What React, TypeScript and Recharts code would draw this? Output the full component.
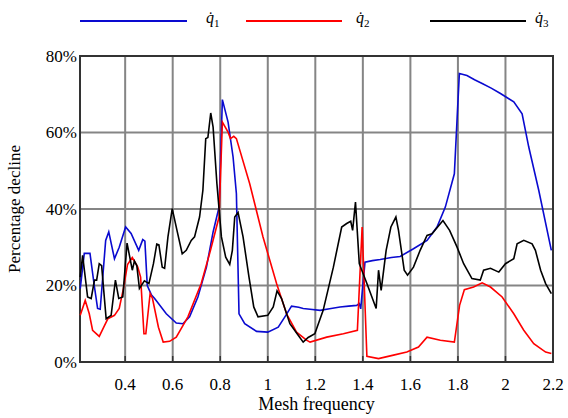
import React from "react";
import {
  LineChart, Line, XAxis, YAxis, CartesianGrid, Legend, Label, ReferenceArea,
} from "recharts";

const FONT = '"Liberation Serif", "Times New Roman", serif';

// [mesh frequency, percentage decline]
const Q1: [number, number][] = [
  [0.211, 19.2], [0.228, 28.4], [0.252, 28.4], [0.27, 20], [0.284, 14], [0.295, 13.8],
  [0.318, 31.8], [0.331, 34], [0.355, 27], [0.375, 30], [0.402, 35.3], [0.425, 33.6],
  [0.457, 29.2], [0.474, 32], [0.483, 31.6], [0.493, 20], [0.51, 17.6], [0.524, 16.6],
  [0.573, 12.6], [0.615, 10.2], [0.643, 10], [0.671, 11.8], [0.706, 17], [0.742, 24.8],
  [0.77, 34], [0.795, 40.5], [0.809, 68.6], [0.833, 62.7], [0.854, 53.6], [0.868, 44],
  [0.879, 12.6], [0.903, 10], [0.953, 8], [1.0, 7.8], [1.044, 9.1], [1.072, 11.8],
  [1.1, 14.6], [1.13, 14.3], [1.149, 14], [1.178, 13.8], [1.22, 13.5], [1.26, 13.9],
  [1.304, 14.4], [1.34, 14.6], [1.374, 14.8], [1.385, 15.3], [1.391, 13.9], [1.409, 26.1],
  [1.44, 26.5], [1.473, 26.8], [1.52, 27.3], [1.557, 27.6], [1.613, 29.6], [1.67, 31.8],
  [1.712, 35.3], [1.747, 40.5], [1.785, 49.2], [1.806, 75.4], [1.838, 74.9], [1.87, 73.8],
  [1.902, 72.8], [1.94, 71.6], [1.979, 70.2], [2.035, 68], [2.07, 64.9], [2.098, 56.2],
  [2.14, 44.9], [2.193, 29.2],
];

const Q2: [number, number][] = [
  [0.211, 12.2], [0.232, 16.1], [0.249, 12.6], [0.263, 8.3], [0.291, 6.7], [0.313, 9.5],
  [0.327, 11.3], [0.355, 12.2], [0.375, 14], [0.392, 19], [0.41, 25.5], [0.43, 27.3],
  [0.453, 24.8], [0.465, 22.2], [0.479, 7.4], [0.487, 7.4], [0.505, 17.9], [0.515, 16.6],
  [0.54, 9.1], [0.56, 5.2], [0.587, 5.4], [0.615, 6.5], [0.664, 11.8], [0.72, 20.5],
  [0.759, 29.2], [0.795, 37.9], [0.809, 62.7], [0.833, 60.1], [0.843, 58.4], [0.857, 59],
  [0.868, 58.4], [0.924, 46.6], [0.98, 32.7], [1.037, 20.5], [1.079, 12.6], [1.121, 7.8],
  [1.163, 5.7], [1.178, 5.2], [1.248, 6.5], [1.318, 7.4], [1.377, 8.3], [1.397, 35.3],
  [1.417, 1.5], [1.466, 0.9], [1.529, 1.8], [1.585, 2.6], [1.634, 3.9], [1.67, 6.5],
  [1.726, 5.7], [1.785, 5.2], [1.807, 14.8], [1.827, 18.9], [1.866, 19.6], [1.902, 20.7],
  [1.937, 19.6], [1.986, 17], [2.035, 12.6], [2.077, 8.3], [2.119, 4.8], [2.169, 2.6],
  [2.193, 2.2],
];

const Q3: [number, number][] = [
  [0.211, 22.2], [0.221, 27.9], [0.242, 17], [0.257, 16.6], [0.271, 21.4], [0.28, 21.4],
  [0.291, 25.7], [0.301, 25.2], [0.32, 11.3], [0.341, 12.2], [0.359, 21.4], [0.373, 16.6],
  [0.39, 17], [0.408, 31.1], [0.43, 24], [0.439, 26.4], [0.449, 25.2], [0.46, 19.2],
  [0.481, 21.2], [0.5, 20.5], [0.519, 25.7], [0.533, 30.8], [0.542, 30.6], [0.556, 24.8],
  [0.566, 24.5], [0.58, 32.7], [0.598, 40.1], [0.618, 34.4], [0.64, 28.3], [0.657, 29.2],
  [0.678, 31.8], [0.692, 32.7], [0.713, 37.9], [0.727, 44.9], [0.739, 58.4], [0.748, 58.7],
  [0.76, 65.1], [0.77, 61.4], [0.786, 46.6], [0.805, 32.7], [0.823, 27.4], [0.84, 25.5],
  [0.851, 29.2], [0.861, 37.9], [0.875, 39.1], [0.896, 32.7], [0.921, 22.2], [0.941, 14.4],
  [0.959, 11.8], [1.0, 12.2], [1.023, 14.4], [1.039, 18.6], [1.058, 16.6], [1.093, 10],
  [1.128, 7], [1.149, 5.2], [1.17, 6.4], [1.198, 7.4], [1.233, 13.5], [1.276, 24.8],
  [1.311, 35.3], [1.332, 36.2], [1.349, 36.8], [1.357, 34.4], [1.369, 41.8], [1.385, 25.7],
  [1.417, 20.5], [1.456, 14], [1.466, 24], [1.477, 18.7], [1.498, 29.2], [1.518, 35.3],
  [1.539, 37.9], [1.55, 34.4], [1.574, 24], [1.588, 22.7], [1.613, 24.8], [1.641, 29.2],
  [1.67, 33.1], [1.691, 33.5], [1.737, 37], [1.765, 34.4], [1.796, 30.1], [1.824, 25.7],
  [1.859, 21.8], [1.894, 21.4], [1.908, 24], [1.937, 24.5], [1.972, 23.5], [2.0, 25.7],
  [2.035, 27], [2.049, 30.9], [2.077, 31.8], [2.112, 30.9], [2.126, 29.2], [2.148, 24],
  [2.169, 20.5], [2.193, 17.9],
];

const X_TICKS = [0.4, 0.6, 0.8, 1, 1.2, 1.4, 1.6, 1.8, 2, 2.2];
const Y_TICKS = [0, 20, 40, 60, 80];

const SERIES = [
  { key: "q1", sub: "1", color: "#0a0ad0", data: Q1, line: [80, 187], text: 206 },
  { key: "q2", sub: "2", color: "#ff0000", data: Q2, line: [246, 342], text: 356 },
  { key: "q3", sub: "3", color: "#000000", data: Q3, line: [430, 526], text: 535 },
];

const toRows = (pts: [number, number][]) => pts.map(([x, y]) => ({ x, y }));

const TEXT_STYLE = { fontFamily: FONT, fontSize: 17, fill: "#000" };

function LegendBox() {
  return (
    <div style={{ position: "relative", width: 568, height: 56, fontFamily: FONT }}>
      {SERIES.map((s) => (
        <React.Fragment key={s.key}>
          <div
            style={{
              position: "absolute", left: s.line[0], top: 20,
              width: s.line[1] - s.line[0], height: 2, background: s.color,
            }}
          />
          <span
            style={{
              position: "absolute", left: s.text, top: 8, fontSize: 16,
              color: "#000", lineHeight: "20px", whiteSpace: "nowrap",
            }}
          >
            <i>q{"\u0307"}</i>
            <sub style={{ fontSize: 11 }}>{s.sub}</sub>
          </span>
        </React.Fragment>
      ))}
    </div>
  );
}

function XTick(p: any) {
  return (
    <text x={p.x} y={p.y} dy="0.71em" textAnchor="middle" style={TEXT_STYLE}>
      {String(p.payload.value)}
    </text>
  );
}

function YTick(p: any) {
  return (
    <text x={p.x} y={p.y} dy="0.35em" textAnchor="end" style={TEXT_STYLE}>
      {`${p.payload.value}%`}
    </text>
  );
}

function YTitle(props: any) {
  const vb = props.viewBox || { y: 56, height: 306 };
  const cy = vb.y + vb.height / 2;
  return (
    <text
      x={20} y={cy} transform={`rotate(-90, 20, ${cy})`}
      textAnchor="middle" style={TEXT_STYLE}
    >
      Percentage decline
    </text>
  );
}

export default function App() {
  return (
    <div
      style={{
        position: "absolute", left: 0, top: 0, width: 568, height: 418,
        background: "#fff", fontFamily: FONT,
      }}
    >
      <LineChart width={568} height={418} margin={{ top: 0, right: 15, bottom: 26, left: 0 }}>
        <CartesianGrid stroke="#858585" strokeWidth={2} />
        <XAxis
          type="number" dataKey="x" domain={[0.21, 2.2]} ticks={X_TICKS}
          tick={XTick} axisLine={false} tickLine={{ stroke: "#333", strokeWidth: 1.5 }}
          tickSize={-6} tickMargin={22} height={30} interval={0}
        >
          <Label value="Mesh frequency" position="bottom" offset={5}
            style={{ fontFamily: FONT, fontSize: 18, fill: "#000" }} />
        </XAxis>
        <XAxis
          xAxisId="top" orientation="top" type="number" domain={[0.21, 2.2]} ticks={X_TICKS}
          tick={false} axisLine={false} tickLine={{ stroke: "#333", strokeWidth: 1.5 }}
          tickSize={-6} height={0} interval={0}
        />
        <YAxis
          type="number" domain={[0, 80]} ticks={Y_TICKS}
          tick={YTick} axisLine={false} tickLine={false} tickSize={0} tickMargin={3} width={80}
        >
          <Label content={<YTitle />} />
        </YAxis>
        <YAxis
          yAxisId="right" orientation="right" type="number" domain={[0, 80]} ticks={Y_TICKS}
          tick={false} axisLine={false} tickLine={{ stroke: "#333", strokeWidth: 1.5 }}
          tickSize={-5} width={0}
        />
        <ReferenceArea x1={0.21} x2={2.2} y1={0} y2={80} fill="none" stroke="#333" strokeWidth={2} />
        <Legend
          verticalAlign="top" content={<LegendBox />}
          wrapperStyle={{ top: 0, left: 0, width: 568, height: 56 }}
        />
        {SERIES.map((s) => (
          <Line
            key={s.key} type="linear" data={toRows(s.data)} dataKey="y" name={s.key}
            stroke={s.color} strokeWidth={1.6} dot={false} isAnimationActive={false}
          />
        ))}
      </LineChart>
    </div>
  );
}
